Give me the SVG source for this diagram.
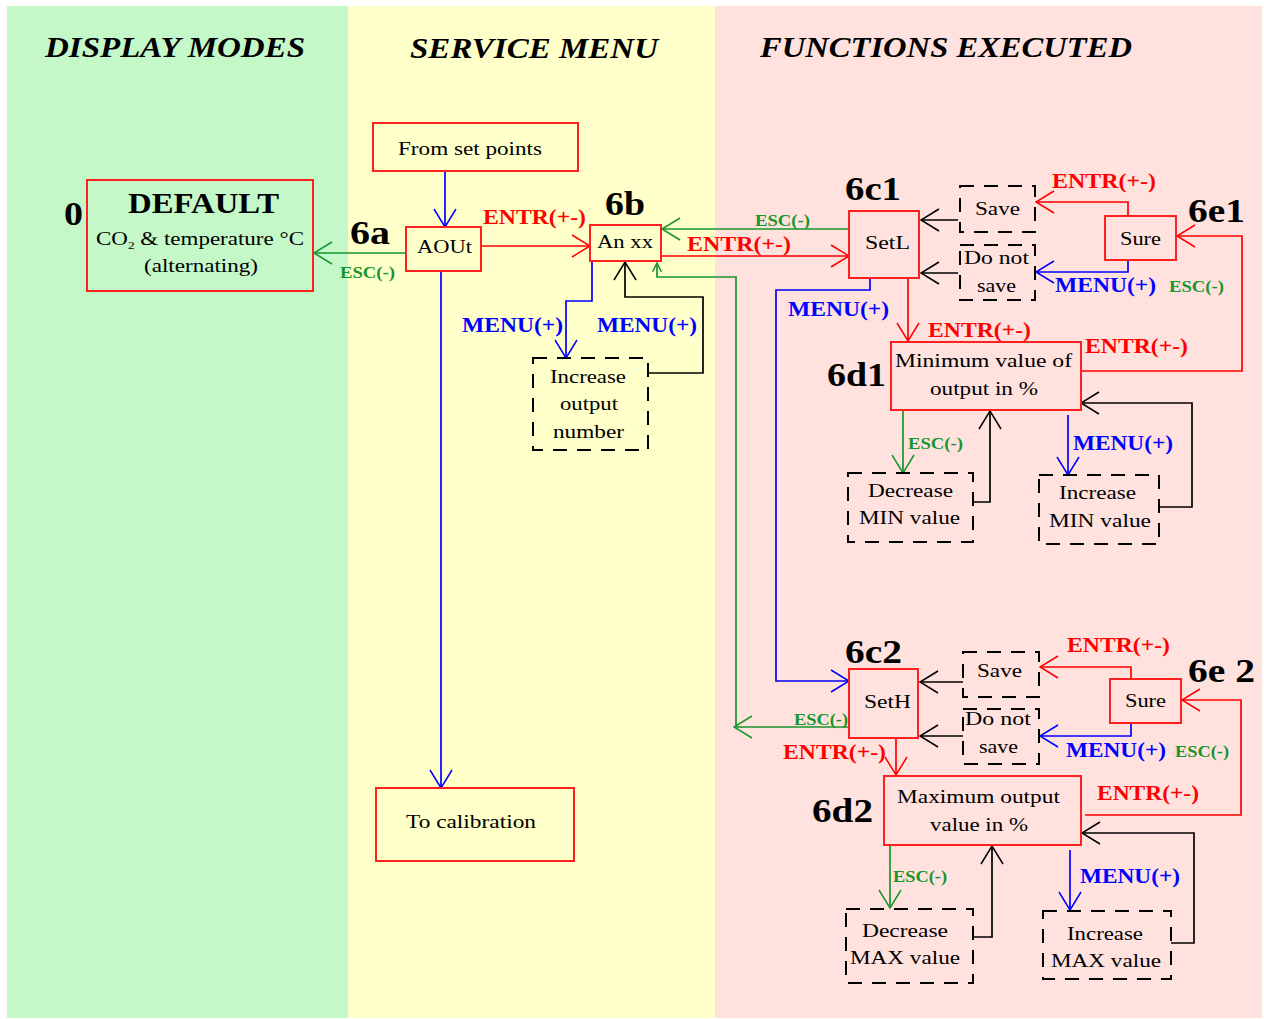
<svg xmlns="http://www.w3.org/2000/svg" width="1264" height="1019" viewBox="0 0 1264 1019">
<style>
.t{font-family:"Liberation Serif",serif;font-size:19px;fill:#000}
.hdr{font-family:"Liberation Serif",serif;font-size:29px;font-weight:bold;font-style:italic;fill:#000}
.num{font-family:"Liberation Serif",serif;font-size:34px;font-weight:bold;fill:#000}
.lr{font-family:"Liberation Serif",serif;font-size:21px;font-weight:bold;fill:#ff0000}
.lb{font-family:"Liberation Serif",serif;font-size:21px;font-weight:bold;fill:#0000ff}
.lg{font-family:"Liberation Serif",serif;font-size:16px;font-weight:bold;fill:#16962c}
.box{fill:none;stroke:#ff2020;stroke-width:2}
.dash{fill:none;stroke:#000;stroke-width:2;stroke-dasharray:14 10}
.cr{fill:none;stroke:#ff0000;stroke-width:1.7;marker-end:url(#ar)}
.cb{fill:none;stroke:#0000ff;stroke-width:1.7;marker-end:url(#ab)}
.cg{fill:none;stroke:#16962c;stroke-width:1.7;marker-end:url(#ag)}
.ck{fill:none;stroke:#000;stroke-width:1.7;marker-end:url(#ak)}
</style>
<defs>
<marker id="ar" viewBox="0 0 20 24" refX="19" refY="12" markerWidth="20" markerHeight="24" markerUnits="userSpaceOnUse" orient="auto"><path d="M1,1 L19,12 L1,23" fill="none" stroke="#ff0000" stroke-width="1.5"/></marker>
<marker id="ab" viewBox="0 0 20 24" refX="19" refY="12" markerWidth="20" markerHeight="24" markerUnits="userSpaceOnUse" orient="auto"><path d="M1,1 L19,12 L1,23" fill="none" stroke="#0000ff" stroke-width="1.5"/></marker>
<marker id="ag" viewBox="0 0 20 24" refX="19" refY="12" markerWidth="20" markerHeight="24" markerUnits="userSpaceOnUse" orient="auto"><path d="M1,1 L19,12 L1,23" fill="none" stroke="#16962c" stroke-width="1.5"/></marker>
<marker id="ags" viewBox="0 0 16 16" refX="15" refY="8" markerWidth="10" markerHeight="10" markerUnits="userSpaceOnUse" orient="auto"><path d="M1,1 L15,8 L1,15" fill="none" stroke="#16962c" stroke-width="2.4"/></marker>
<marker id="ak" viewBox="0 0 20 24" refX="19" refY="12" markerWidth="20" markerHeight="24" markerUnits="userSpaceOnUse" orient="auto"><path d="M1,1 L19,12 L1,23" fill="none" stroke="#000" stroke-width="1.5"/></marker>
</defs>
<rect x="0" y="0" width="1264" height="1019" fill="#fff"/>
<rect x="7" y="6" width="341" height="1012" fill="#c4f8c8"/>
<rect x="348" y="6" width="367" height="1012" fill="#ffffca"/>
<rect x="715" y="6" width="547" height="1012" fill="#ffe2de"/>

<g id="headers">
<text class="hdr" x="45" y="57" textLength="260" lengthAdjust="spacingAndGlyphs">DISPLAY MODES</text>
<text class="hdr" x="410" y="58" textLength="248" lengthAdjust="spacingAndGlyphs">SERVICE MENU</text>
<text class="hdr" x="760" y="57" textLength="372" lengthAdjust="spacingAndGlyphs">FUNCTIONS EXECUTED</text>
</g>

<g id="connectors">
<path class="cb" d="M445,171 L445,227"/>
<path class="cr" d="M481,246 L590,246"/>
<path class="cg" d="M406,253 L314,253"/>
<path class="cb" d="M441,271 L441,788"/>
<path class="cb" d="M592,261 L592,301 L566,301 L566,358"/>
<path class="ck" d="M648,373 L703,373 L703,297 L625,297 L625,262"/>
<path class="cg" d="M849,229 L662,229"/>
<path class="cr" d="M661,256 L849,256"/>
<path class="cg" d="M849,727 L734,727"/>
<path fill="none" stroke="#16962c" stroke-width="1.7" marker-end="url(#ags)" d="M736,727 L736,277 L657,277 L657,263"/>
<path class="cb" d="M870,278 L870,290 L776,290 L776,681 L849,681"/>
<path class="cr" d="M908,278 L908,341"/>
<path class="ck" d="M958,220 L921,220"/>
<path class="ck" d="M958,273 L921,273"/>
<path class="cr" d="M1128,216 L1128,202 L1036,202"/>
<path class="cb" d="M1128,260 L1128,272 L1036,272"/>
<path class="cr" d="M1081,371 L1242,371 L1242,236 L1177,236"/>
<path class="cg" d="M903,410 L903,473"/>
<path class="ck" d="M973,502 L990,502 L990,411"/>
<path class="cb" d="M1068,415 L1068,475"/>
<path class="ck" d="M1159,507 L1192,507 L1192,403 L1081,403"/>
<path class="cr" d="M896,738 L896,775"/>
<path class="ck" d="M963,682 L920,682"/>
<path class="ck" d="M963,736 L920,736"/>
<path class="cr" d="M1131,679 L1131,667 L1040,667"/>
<path class="cb" d="M1131,723 L1131,736 L1040,736"/>
<path class="cr" d="M1085,815 L1241,815 L1241,700 L1182,700"/>
<path class="cg" d="M890,845 L890,908"/>
<path class="ck" d="M973,937 L992,937 L992,846"/>
<path class="cb" d="M1070,850 L1070,910"/>
<path class="ck" d="M1171,943 L1194,943 L1194,833 L1082,833"/>
</g>

<g id="labels">
<text class="lg" x="340" y="278" textLength="55" lengthAdjust="spacingAndGlyphs">ESC(-)</text>
<text class="lr" x="483" y="224" textLength="103" lengthAdjust="spacingAndGlyphs">ENTR(+-)</text>
<text class="lb" x="462" y="332" textLength="101" lengthAdjust="spacingAndGlyphs">MENU(+)</text>
<text class="lb" x="597" y="332" textLength="100" lengthAdjust="spacingAndGlyphs">MENU(+)</text>
<text class="lg" x="755" y="226" textLength="55" lengthAdjust="spacingAndGlyphs">ESC(-)</text>
<text class="lr" x="687" y="251" textLength="104" lengthAdjust="spacingAndGlyphs">ENTR(+-)</text>
<text class="lr" x="1052" y="188" textLength="104" lengthAdjust="spacingAndGlyphs">ENTR(+-)</text>
<text class="lb" x="1055" y="292" textLength="101" lengthAdjust="spacingAndGlyphs">MENU(+)</text>
<text class="lg" x="1169" y="292" textLength="55" lengthAdjust="spacingAndGlyphs">ESC(-)</text>
<text class="lb" x="788" y="316" textLength="101" lengthAdjust="spacingAndGlyphs">MENU(+)</text>
<text class="lr" x="928" y="337" textLength="103" lengthAdjust="spacingAndGlyphs">ENTR(+-)</text>
<text class="lr" x="1085" y="353" textLength="103" lengthAdjust="spacingAndGlyphs">ENTR(+-)</text>
<text class="lg" x="908" y="449" textLength="55" lengthAdjust="spacingAndGlyphs">ESC(-)</text>
<text class="lb" x="1073" y="450" textLength="100" lengthAdjust="spacingAndGlyphs">MENU(+)</text>
<text class="lg" x="794" y="725" textLength="54" lengthAdjust="spacingAndGlyphs">ESC(-)</text>
<text class="lr" x="783" y="759" textLength="103" lengthAdjust="spacingAndGlyphs">ENTR(+-)</text>
<text class="lr" x="1067" y="652" textLength="103" lengthAdjust="spacingAndGlyphs">ENTR(+-)</text>
<text class="lb" x="1066" y="757" textLength="100" lengthAdjust="spacingAndGlyphs">MENU(+)</text>
<text class="lg" x="1175" y="757" textLength="54" lengthAdjust="spacingAndGlyphs">ESC(-)</text>
<text class="lr" x="1097" y="800" textLength="102" lengthAdjust="spacingAndGlyphs">ENTR(+-)</text>
<text class="lg" x="893" y="882" textLength="54" lengthAdjust="spacingAndGlyphs">ESC(-)</text>
<text class="lb" x="1080" y="883" textLength="100" lengthAdjust="spacingAndGlyphs">MENU(+)</text>
</g>

<g id="n0">
<rect class="box" x="87" y="180" width="226" height="111"/>
<text class="num" x="64" y="225" textLength="19" lengthAdjust="spacingAndGlyphs">0</text>
<text class="t" x="128" y="213" style="font-size:30px;font-weight:bold" textLength="151" lengthAdjust="spacingAndGlyphs">DEFAULT</text>
<text class="t" x="96" y="245" textLength="208" lengthAdjust="spacingAndGlyphs">CO<tspan font-size="11" dy="4">2</tspan><tspan dy="-4"> &amp; temperature °C</tspan></text>
<text class="t" x="144" y="272" textLength="114" lengthAdjust="spacingAndGlyphs">(alternating)</text>
</g>

<g id="setpoints">
<rect class="box" x="373" y="123" width="205" height="48"/>
<text class="t" x="398" y="155" textLength="144" lengthAdjust="spacingAndGlyphs">From set points</text>
</g>

<g id="n6a">
<rect class="box" x="406" y="227" width="75" height="44"/>
<text class="num" x="350" y="244" textLength="40" lengthAdjust="spacingAndGlyphs">6a</text>
<text class="t" x="417" y="253" textLength="55" lengthAdjust="spacingAndGlyphs">AOUt</text>
</g>

<g id="n6b">
<rect class="box" x="590" y="225" width="71" height="36"/>
<text class="num" x="605" y="215" textLength="40" lengthAdjust="spacingAndGlyphs">6b</text>
<text class="t" x="597" y="248" textLength="56" lengthAdjust="spacingAndGlyphs">An xx</text>
</g>

<g id="incout">
<rect class="dash" x="533" y="358" width="115" height="92"/>
<text class="t" x="550" y="383" textLength="76" lengthAdjust="spacingAndGlyphs">Increase</text>
<text class="t" x="560" y="410" textLength="58" lengthAdjust="spacingAndGlyphs">output</text>
<text class="t" x="553" y="438" textLength="71" lengthAdjust="spacingAndGlyphs">number</text>
</g>

<g id="calib">
<rect class="box" x="376" y="788" width="198" height="73"/>
<text class="t" x="406" y="828" textLength="130" lengthAdjust="spacingAndGlyphs">To calibration</text>
</g>

<g id="n6c1">
<rect class="box" x="849" y="211" width="70" height="67"/>
<text class="num" x="845" y="200" textLength="56" lengthAdjust="spacingAndGlyphs">6c1</text>
<text class="t" x="865" y="249" textLength="45" lengthAdjust="spacingAndGlyphs">SetL</text>
</g>

<g id="save1">
<rect class="dash" x="960" y="186" width="75" height="46"/>
<text class="t" x="975" y="215" textLength="45" lengthAdjust="spacingAndGlyphs">Save</text>
</g>

<g id="nosave1">
<rect class="dash" x="960" y="245" width="75" height="55"/>
<text class="t" x="964" y="264" textLength="65" lengthAdjust="spacingAndGlyphs">Do not</text>
<text class="t" x="977" y="292" textLength="39" lengthAdjust="spacingAndGlyphs">save</text>
</g>

<g id="n6e1">
<rect class="box" x="1105" y="216" width="71" height="44"/>
<text class="num" x="1188" y="222" textLength="57" lengthAdjust="spacingAndGlyphs">6e1</text>
<text class="t" x="1120" y="245" textLength="41" lengthAdjust="spacingAndGlyphs">Sure</text>
</g>

<g id="n6d1">
<rect class="box" x="891" y="342" width="190" height="68"/>
<text class="num" x="827" y="386" textLength="59" lengthAdjust="spacingAndGlyphs">6d1</text>
<text class="t" x="895" y="367" textLength="177" lengthAdjust="spacingAndGlyphs">Minimum value  of</text>
<text class="t" x="930" y="395" textLength="108" lengthAdjust="spacingAndGlyphs">output in %</text>
</g>

<g id="decmin">
<rect class="dash" x="848" y="473" width="125" height="69"/>
<text class="t" x="868" y="497" textLength="85" lengthAdjust="spacingAndGlyphs">Decrease</text>
<text class="t" x="859" y="524" textLength="101" lengthAdjust="spacingAndGlyphs">MIN value</text>
</g>

<g id="incmin">
<rect class="dash" x="1039" y="475" width="120" height="69"/>
<text class="t" x="1059" y="499" textLength="77" lengthAdjust="spacingAndGlyphs">Increase</text>
<text class="t" x="1049" y="527" textLength="102" lengthAdjust="spacingAndGlyphs">MIN value</text>
</g>

<g id="n6c2">
<rect class="box" x="849" y="669" width="69" height="69"/>
<text class="num" x="845" y="663" textLength="57" lengthAdjust="spacingAndGlyphs">6c2</text>
<text class="t" x="864" y="708" textLength="47" lengthAdjust="spacingAndGlyphs">SetH</text>
</g>

<g id="save2">
<rect class="dash" x="963" y="652" width="76" height="45"/>
<text class="t" x="977" y="677" textLength="45" lengthAdjust="spacingAndGlyphs">Save</text>
</g>

<g id="nosave2">
<rect class="dash" x="963" y="709" width="76" height="55"/>
<text class="t" x="965" y="725" textLength="66" lengthAdjust="spacingAndGlyphs">Do not</text>
<text class="t" x="979" y="753" textLength="39" lengthAdjust="spacingAndGlyphs">save</text>
</g>

<g id="n6e2">
<rect class="box" x="1110" y="679" width="71" height="44"/>
<text class="num" x="1188" y="682" textLength="67" lengthAdjust="spacingAndGlyphs">6e 2</text>
<text class="t" x="1125" y="707" textLength="41" lengthAdjust="spacingAndGlyphs">Sure</text>
</g>

<g id="n6d2">
<rect class="box" x="884" y="776" width="197" height="69"/>
<text class="num" x="812" y="822" textLength="61" lengthAdjust="spacingAndGlyphs">6d2</text>
<text class="t" x="897" y="803" textLength="163" lengthAdjust="spacingAndGlyphs">Maximum  output</text>
<text class="t" x="930" y="831" textLength="98" lengthAdjust="spacingAndGlyphs">value in %</text>
</g>

<g id="decmax">
<rect class="dash" x="846" y="909" width="127" height="74"/>
<text class="t" x="862" y="937" textLength="86" lengthAdjust="spacingAndGlyphs">Decrease</text>
<text class="t" x="850" y="964" textLength="110" lengthAdjust="spacingAndGlyphs">MAX value</text>
</g>

<g id="incmax">
<rect class="dash" x="1043" y="911" width="128" height="68"/>
<text class="t" x="1067" y="940" textLength="76" lengthAdjust="spacingAndGlyphs">Increase</text>
<text class="t" x="1051" y="967" textLength="110" lengthAdjust="spacingAndGlyphs">MAX value</text>
</g>
</svg>
